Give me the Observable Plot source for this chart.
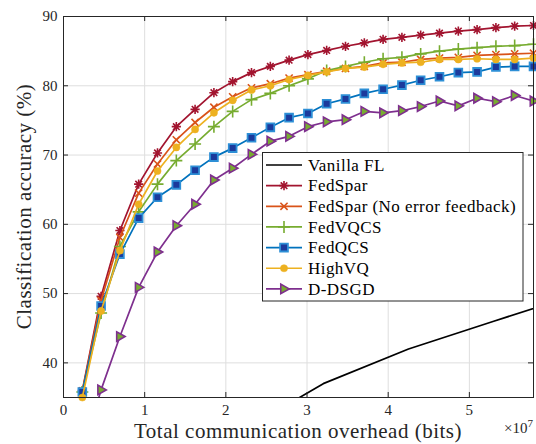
<!DOCTYPE html>
<html><head><meta charset="utf-8">
<script src="https://cdn.jsdelivr.net/npm/d3@7"></script>
<script src="https://cdn.jsdelivr.net/npm/@observablehq/plot@0.6"></script>
<style>
html,body{margin:0;padding:0;background:#fff;}
#chart{width:536px;height:444px;position:relative;}
</style></head><body><div id="chart"></div>
<script>
// Total communication overhead (in units of 10^7 bits), one per round
const overhead = [0.232,0.463,0.695,0.926,1.158,1.390,1.621,1.853,2.084,2.316,2.548,2.779,3.011,3.242,3.474,3.706,3.937,4.169,4.400,4.632,4.864,5.095,5.327,5.558,5.790];
const fedSpar   = [36.0,49.6,59.1,65.8,70.3,74.1,76.6,79.0,80.6,81.9,82.8,83.7,84.5,85.1,85.7,86.2,86.7,87.0,87.3,87.6,87.9,88.1,88.4,88.6,88.7];
const fedSparNoEF = [35.9,49.0,58.1,64.5,68.7,72.2,74.7,76.9,78.4,79.7,80.3,81.1,81.6,82.1,82.5,82.8,83.3,83.4,83.8,84.0,84.1,84.4,84.5,84.6,84.7];
const fedVQCS   = [35.8,47.2,56.8,61.8,65.8,69.2,71.6,74.1,76.3,78.0,78.9,80.0,81.0,82.2,82.8,83.4,83.9,84.1,84.6,85.0,85.3,85.5,85.7,85.8,86.0];
const fedQCS    = [35.8,48.2,55.7,60.9,63.9,65.7,67.8,69.7,71.0,72.5,74.0,75.4,76.0,77.4,78.1,78.9,79.5,80.1,80.8,81.3,81.9,82.0,82.7,82.8,82.8];
const highVQ    = [35.0,47.5,56.2,62.9,67.7,71.1,73.7,76.1,77.9,79.4,80.0,80.9,81.5,82.0,82.5,82.7,83.1,83.3,83.4,83.8,83.8,83.9,83.8,83.8,84.0];
const dDSGD     = [27.0,36.1,43.8,50.9,56.0,59.8,62.9,66.4,68.1,70.1,72.0,72.7,74.1,74.8,75.1,76.3,76.1,76.4,77.0,77.8,77.1,78.2,77.7,78.6,77.8];
// Vanilla FL (no compression): fewer rounds over the same budget
const vanillaOverhead = [2.15,3.20,4.25,5.30,6.35];
const vanillaAcc      = [29.8,37.0,42.0,46.0,50.0];

const seriesNames = ["Vanilla FL","FedSpar","FedSpar (No error feedback)","FedVQCS","FedQCS","HighVQ","D-DSGD"];
const xTicks = [0,1,2,3,4,5];
const xTickLabels = ["0","1","2","3","4","5"];
const yTicks = [40,50,60,70,80,90];
const yTickLabels = ["40","50","60","70","80","90"];
const xLabel = "Total communication overhead (bits)";
const yLabel = "Classification accuracy (%)";
const xExponent = "7";

// ---- custom MATLAB-like marker symbols ----
const R = s => Math.sqrt(s/Math.PI);
const SYM = {
  star: {draw(c,s){const r=R(s),d=r*0.72;c.moveTo(-r,0);c.lineTo(r,0);c.moveTo(0,-r);c.lineTo(0,r);c.moveTo(-d,-d);c.lineTo(d,d);c.moveTo(-d,d);c.lineTo(d,-d);}},
  times:{draw(c,s){const r=R(s);c.moveTo(-r,-r);c.lineTo(r,r);c.moveTo(-r,r);c.lineTo(r,-r);}},
  plus: {draw(c,s){const r=R(s);c.moveTo(-r,0);c.lineTo(r,0);c.moveTo(0,-r);c.lineTo(0,r);}},
  square:{draw(c,s){const r=R(s);c.rect(-r,-r,2*r,2*r);}},
  circle:{draw(c,s){const r=R(s);c.moveTo(r,0);c.arc(0,0,r,0,2*Math.PI);}},
  tri:  {draw(c,s){const r=R(s);c.moveTo(r,0);c.lineTo(-0.62*r,-0.92*r);c.lineTo(-0.62*r,0.92*r);c.closePath();}}
};

const styles = {
  "Vanilla FL": {line:"#000000", sym:null},
  "FedSpar": {line:"#A2142F", sym:SYM.star, r:4.6, fill:"none", stroke:"#A2142F", sw:1.6},
  "FedSpar (No error feedback)": {line:"#D95319", sym:SYM.times, r:3.6, fill:"none", stroke:"#D95319", sw:1.6},
  "FedVQCS": {line:"#77AC30", sym:SYM.plus, r:6, fill:"none", stroke:"#77AC30", sw:1.6},
  "FedQCS": {line:"#0072BD", sym:SYM.square, r:3.9, fill:"#1b3a9c", stroke:"#2d8fd6", sw:1.8},
  "HighVQ": {line:"#EDB120", sym:SYM.circle, r:3.6, fill:"#EDB120", stroke:"#EDB120", sw:0.5},
  "D-DSGD": {line:"#7E2F8E", sym:SYM.tri, r:5.2, fill:"#77AC30", stroke:"#7E2F8E", sw:1.6}
};

const seriesValues = {
  "FedSpar": fedSpar, "FedSpar (No error feedback)": fedSparNoEF, "FedVQCS": fedVQCS,
  "FedQCS": fedQCS, "HighVQ": highVQ, "D-DSGD": dDSGD
};

const rows = {};
rows["Vanilla FL"] = vanillaOverhead.map((x,i)=>({x, y: vanillaAcc[i]}));
for (const k of Object.keys(seriesValues)) rows[k] = overhead.map((x,i)=>({x, y: seriesValues[k][i]}));

const W = 536, H = 444, mL = 63, mR = 3, mT = 16, mB = 47;
const fw = W - mL - mR, fh = H - mT - mB;
const axisColor = "#262626";
const FONT = "Liberation Serif, Times New Roman, serif";
const yDomain = [35, 90];

const marks = [
  Plot.gridX(xTicks, {stroke:"#dedede", strokeOpacity:1, strokeWidth:1}),
  Plot.gridY(yTicks, {stroke:"#dedede", strokeOpacity:1, strokeWidth:1})
];
for (const name of seriesNames) {
  const st = styles[name];
  marks.push(Plot.line(rows[name], {x:"x", y:"y", stroke: st.line, strokeWidth: 1.7, clip: true}));
  if (st.sym) {
    marks.push(Plot.dot(rows[name].filter(d => d.y >= yDomain[0]), {x:"x", y:"y", symbol: st.sym, r: st.r, fill: st.fill, stroke: st.stroke, strokeWidth: st.sw}));
  }
}
marks.push(
  Plot.frame({stroke: axisColor, strokeWidth: 1}),
  Plot.tickX(xTicks, {x: d=>d, insetTop: fh-5, stroke: axisColor}),
  Plot.tickX(xTicks, {x: d=>d, insetBottom: fh-5, stroke: axisColor}),
  Plot.tickY(yTicks, {y: d=>d, insetRight: fw-5, stroke: axisColor}),
  Plot.tickY(yTicks, {y: d=>d, insetLeft: fw-5, stroke: axisColor}),
  Plot.axisX(xTicks, {tickSize:0, tickPadding:7, fontSize:15, fontFamily: FONT, fill: axisColor, tickFormat: d => xTickLabels[xTicks.indexOf(d)], label: null}),
  Plot.axisY(yTicks, {tickSize:0, tickPadding:6, fontSize:15, fontFamily: FONT, fill: axisColor, tickFormat: d => yTickLabels[yTicks.indexOf(d)], label: null})
);

const svgNode = Plot.plot({
  width: W, height: H,
  marginLeft: mL, marginRight: mR, marginTop: mT, marginBottom: mB,
  style: {fontFamily: FONT, background: "#fff", overflow: "visible"},
  x: {domain: [0, overhead[overhead.length-1]]},
  y: {domain: yDomain},
  marks
});
document.getElementById("chart").appendChild(svgNode);
d3.select(svgNode).selectAll("text").attr("font-family", FONT);

const svg = d3.select(svgNode);
// axis titles
svg.append("text").attr("x", mL + fw/2).attr("y", 437.5).attr("text-anchor","middle")
  .attr("font-family", FONT).attr("font-size", 21).attr("letter-spacing", "0.5px").attr("fill", axisColor).text(xLabel);
svg.append("text").attr("transform", `translate(31,${mT + fh/2}) rotate(-90)`).attr("text-anchor","middle")
  .attr("font-family", FONT).attr("font-size", 21).attr("letter-spacing", "0.5px").attr("fill", axisColor).text(yLabel);
const ex = svg.append("text").attr("x", 533).attr("y", 432.5).attr("text-anchor","end")
  .attr("font-family", FONT).attr("font-size", 15).attr("fill", axisColor);
ex.append("tspan").text("\u00d710");
ex.append("tspan").attr("dy", -6).attr("font-size", 11).text(xExponent);

// legend
const lg = svg.append("g").attr("transform", "translate(262.5,152.5)");
lg.append("rect").attr("width", 260.5).attr("height", 148.5).attr("fill","#fff").attr("stroke", axisColor).attr("stroke-width", 1);
seriesNames.forEach((name, k) => {
  const st = styles[name];
  const cy = 12.5 + k*20.65;
  lg.append("line").attr("x1", 3.5).attr("x2", 39.5).attr("y1", cy).attr("y2", cy).attr("stroke", st.line).attr("stroke-width", 1.7);
  if (st.sym) {
    lg.append("path").attr("transform", `translate(21.5,${cy})`)
      .attr("d", d3.symbol(st.sym, Math.PI*st.r*st.r)())
      .attr("fill", st.fill).attr("stroke", st.stroke).attr("stroke-width", st.sw);
  }
  lg.append("text").attr("x", 45.5).attr("y", cy).attr("dy", "0.33em").attr("text-anchor", "start")
    .attr("font-family", FONT).attr("font-size", 17).attr("letter-spacing", "0.45px").attr("fill", "#000").text(name);
});
</script></body></html>
